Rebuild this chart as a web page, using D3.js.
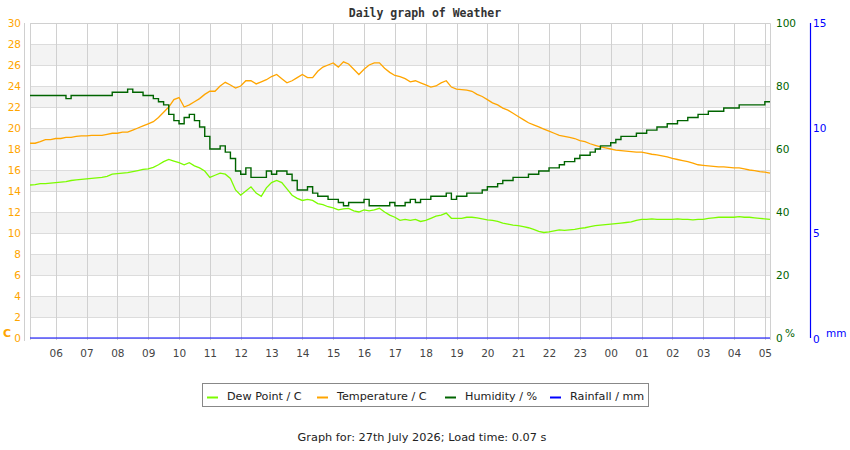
<!DOCTYPE html>
<html>
<head>
<meta charset="utf-8">
<script src="https://cdn.jsdelivr.net/npm/d3@7/dist/d3.min.js"></script>
<style>
  html, body { margin: 0; padding: 0; background: #fff; }
  svg { display: block; }
  text { font-family: "DejaVu Sans", sans-serif; }
</style>
</head>
<body>
<svg id="chart" width="850" height="450"></svg>
<script>
// ---------------- DATA ----------------
const startTime = "2026-07-26T05:10";
const endTime = "2026-07-27T05:10";
const sampleMinutes = 10; // readings every 10 minutes from startTime

const temperature = [
  18.55, 18.55, 18.7, 18.9, 18.9, 19.0, 19.0, 19.1, 19.1, 19.2,
  19.25, 19.25, 19.3, 19.3, 19.3, 19.4, 19.5, 19.5, 19.6, 19.6,
  19.8, 20.0, 20.2, 20.4, 20.6, 21.0, 21.5, 22.0, 22.7, 22.9,
  22.0, 22.2, 22.5, 22.8, 23.2, 23.5, 23.5, 24.0, 24.35, 24.1,
  23.8, 24.0, 24.5, 24.5, 24.2, 24.4, 24.6, 24.9, 25.1, 24.7,
  24.3, 24.5, 24.8, 25.1, 24.8, 24.8, 25.4, 25.8, 26.0, 26.2,
  25.8, 26.3, 26.1, 25.6, 25.1, 25.6, 26.0, 26.2, 26.2, 25.7,
  25.3, 25.0, 24.9, 24.7, 24.4, 24.5, 24.3, 24.1, 23.9, 24.0,
  24.3, 24.5, 23.9, 23.7, 23.65, 23.6, 23.5, 23.2, 23.0, 22.7,
  22.4, 22.2, 21.9, 21.7, 21.4, 21.1, 20.8, 20.5, 20.3, 20.1,
  19.9, 19.7, 19.5, 19.3, 19.2, 19.1, 19.0, 18.8, 18.7, 18.5,
  18.35, 18.2, 18.1, 18.0, 17.9, 17.85, 17.8, 17.75, 17.7, 17.7,
  17.6, 17.5, 17.45, 17.35, 17.25, 17.1, 17.0, 16.9, 16.8, 16.65,
  16.5, 16.45, 16.4, 16.35, 16.3, 16.3, 16.25, 16.2, 16.2, 16.1,
  16.0, 15.95, 15.85, 15.8, 15.7
];

const dewPoint = [
  14.57, 14.6, 14.7, 14.7, 14.75, 14.8, 14.85, 14.9, 15.0, 15.05,
  15.1, 15.15, 15.2, 15.25, 15.3, 15.4, 15.6, 15.65, 15.7, 15.75,
  15.85, 15.95, 16.05, 16.1, 16.25, 16.5, 16.8, 17.0, 16.85, 16.7,
  16.5, 16.7, 16.4, 16.2, 15.9, 15.3, 15.5, 15.7, 15.6, 15.2,
  14.1, 13.6, 14.0, 14.4, 13.8, 13.5, 14.3, 14.8, 15.0, 14.8,
  14.2, 13.6, 13.3, 13.1, 13.2, 13.1, 12.8, 12.7, 12.5, 12.4,
  12.2, 12.3, 12.35, 12.1, 12.0, 12.2, 12.1, 12.2, 12.35, 12.0,
  11.7, 11.5, 11.2, 11.3, 11.2, 11.3, 11.1, 11.2, 11.4, 11.6,
  11.7, 11.9, 11.4, 11.4, 11.4, 11.5, 11.5, 11.45, 11.35, 11.25,
  11.2, 11.1, 10.95, 10.85, 10.75, 10.7, 10.6, 10.5, 10.35, 10.15,
  10.05, 10.1, 10.2, 10.3, 10.25, 10.3, 10.35, 10.45, 10.5, 10.6,
  10.7, 10.75, 10.8, 10.85, 10.9, 10.95, 11.0, 11.05, 11.2, 11.3,
  11.3, 11.35, 11.3, 11.3, 11.3, 11.3, 11.35, 11.3, 11.3, 11.25,
  11.3, 11.3, 11.4, 11.45, 11.5, 11.5, 11.5, 11.5, 11.55, 11.5,
  11.5, 11.45, 11.4, 11.35, 11.3
];

const humidity = [
  77, 77, 77, 77, 77, 77, 77, 76, 77, 77,
  77, 77, 77, 77, 77, 77, 78, 78, 78, 79,
  78, 78, 77, 77, 76, 75, 74, 71, 69, 68,
  70, 71, 69, 67, 64, 60, 60, 61, 59, 57,
  53, 52, 54, 51, 51, 51, 53, 52, 53, 53,
  52, 50, 47, 47, 48, 46, 45, 45, 44, 44,
  43, 42, 43, 43, 43, 44, 42, 42, 42, 42,
  43, 42, 42, 43, 44, 43, 44, 44, 45, 45,
  45, 46, 44, 45, 45, 46, 46, 46, 47, 48,
  48, 49, 50, 50, 51, 51, 51, 52, 52, 53,
  53, 54, 54, 55, 56, 56, 57, 58, 58, 59,
  60, 61, 61, 62, 63, 64, 64, 64, 65, 65,
  66, 66, 67, 67, 68, 68, 69, 69, 70, 70,
  71, 71, 72, 72, 72, 73, 73, 73, 74, 74,
  74, 74, 74, 75, 75
];

const rainTimes = ["2026-07-26T05:10", "2026-07-26T11:10", "2026-07-26T17:10", "2026-07-26T23:10", "2026-07-27T05:10"];
const rainfall = [0, 0, 0, 0, 0];

const tempTicks = [0, 2, 4, 6, 8, 10, 12, 14, 16, 18, 20, 22, 24, 26, 28, 30];
const humTicks = [0, 20, 40, 60, 80, 100];
const rainTicks = [0, 5, 10, 15];

const legendItems = [
  { label: "Dew Point / C", color: "#7cfc00" },
  { label: "Temperature / C", color: "#ffa500" },
  { label: "Humidity / %", color: "#006400" },
  { label: "Rainfall / mm", color: "#0000ff" }
];

const title = "Daily graph of Weather";
const footer = "Graph for: 27th July 2026; Load time: 0.07 s";

// ---------------- CHART ----------------
const svg = d3.select("#chart");
const L = 30, R = 770, T = 23, B = 338;

const parse = d3.timeParse("%Y-%m-%dT%H:%M");
const t0 = parse(startTime), t1 = parse(endTime);
const timeAt = i => d3.timeMinute.offset(t0, i * sampleMinutes);

const x = d3.scaleTime().domain([t0, t1]).range([L, R]);
const yT = d3.scaleLinear().domain([0, 30]).range([B, T]);
const yH = d3.scaleLinear().domain([0, 100]).range([B, T]);
const yR = d3.scaleLinear().domain([0, 15]).range([B, T]);

// alternating bands
const bands = svg.append("g");
for (let k = 0; k < tempTicks.length - 1; k++) {
  const lo = tempTicks[k], hi = tempTicks[k + 1];
  if (k % 2 === 1) {
    bands.append("rect")
      .attr("x", L).attr("width", R - L)
      .attr("y", yT(hi)).attr("height", yT(lo) - yT(hi))
      .attr("fill", "#f3f3f3");
  }
}

// horizontal grid
svg.append("g").selectAll("line").data(tempTicks).join("line")
  .attr("x1", L).attr("x2", R)
  .attr("y1", d => Math.round(yT(d)) + 0.5).attr("y2", d => Math.round(yT(d)) + 0.5)
  .attr("stroke", "#dcdcdc").attr("stroke-width", 1);

// vertical grid (hours)
const hours = d3.timeHour.range(d3.timeHour.ceil(t0), t1);
svg.append("g").selectAll("line").data(hours).join("line")
  .attr("x1", d => Math.round(x(d)) + 0.5).attr("x2", d => Math.round(x(d)) + 0.5)
  .attr("y1", T).attr("y2", B + 2)
  .attr("stroke", "#d0d0d0").attr("stroke-width", 1);

// plot border (left, top, right)
svg.append("path")
  .attr("d", `M${L + 0.5},${B + 2}V${T + 0.5}H${R + 0.5}V${B + 2}`)
  .attr("fill", "none").attr("stroke", "#d0d0d0");

// left axis line
svg.append("line").attr("x1", 24.5).attr("x2", 24.5).attr("y1", T).attr("y2", B + 3)
  .attr("stroke", "#cfcfcf");

// x labels
const fmtH = d3.timeFormat("%H");
svg.append("g").selectAll("text").data(hours).join("text")
  .attr("x", d => x(d) + 0.5).attr("y", 357)
  .attr("text-anchor", "middle")
  .attr("font-size", "10.5px").attr("fill", "#444")
  .text(d => fmtH(d));

// left temp labels
svg.append("g").selectAll("text").data(tempTicks).join("text")
  .attr("x", 21).attr("y", d => yT(d) + 4)
  .attr("text-anchor", "end")
  .attr("font-size", "10.5px").attr("fill", "#ffa500")
  .text(d => d);
svg.append("text").attr("x", 3).attr("y", 337)
  .attr("font-size", "11px").attr("font-weight", "bold").attr("fill", "#ffa500").text("C");

// right humidity labels
svg.append("g").selectAll("text").data(humTicks).join("text")
  .attr("x", 776).attr("y", d => yH(d) + 4)
  .attr("font-size", "10.5px").attr("fill", "#006400")
  .text(d => d);
svg.append("text").attr("x", 785).attr("y", 337)
  .attr("font-size", "10.5px").attr("fill", "#006400").text("%");

// rainfall axis
svg.append("line").attr("x1", 810.5).attr("x2", 810.5).attr("y1", T).attr("y2", B)
  .attr("stroke", "#0000ff").attr("stroke-width", 1.2);
svg.append("g").selectAll("text").data(rainTicks).join("text")
  .attr("x", 813).attr("y", d => yR(d) + (d === 0 ? 5 : 4))
  .attr("font-size", "10.5px").attr("fill", "#0000ff")
  .text(d => d);
svg.append("text").attr("x", 826).attr("y", 337)
  .attr("font-size", "10.5px").attr("fill", "#0000ff").text("mm");

// series
const lineT = d3.line().x((d, i) => x(timeAt(i))).y(d => yT(d));
const lineH = d3.line().x((d, i) => x(timeAt(i))).y(d => yH(d)).curve(d3.curveStepAfter);

svg.append("path").datum(dewPoint).attr("d", lineT)
  .attr("fill", "none").attr("stroke", "#7cfc00").attr("stroke-width", 1.3);
svg.append("path").datum(temperature).attr("d", lineT)
  .attr("fill", "none").attr("stroke", "#ffa500").attr("stroke-width", 1.3);
svg.append("path").datum(humidity).attr("d", lineH)
  .attr("fill", "none").attr("stroke", "#006400").attr("stroke-width", 1.4);

const lineR = d3.line().x((d, i) => x(parse(rainTimes[i]))).y(d => yR(d));
svg.append("path").datum(rainfall).attr("d", lineR)
  .attr("fill", "none").attr("stroke", "#0000ff").attr("stroke-width", 1.2);

// title
svg.append("text").attr("x", 425).attr("y", 17)
  .attr("text-anchor", "middle")
  .style("font-family", "'DejaVu Sans Mono', monospace")
  .attr("font-size", "11.5px").attr("font-weight", "bold").attr("fill", "#333")
  .text(title);

// legend
svg.append("rect").attr("x", 202.5).attr("y", 383.5).attr("width", 446).attr("height", 23)
  .attr("fill", "#fff").attr("stroke", "#888");
const legendX = [207, 317, 445, 550];
legendItems.forEach((it, k) => {
  svg.append("line").attr("x1", legendX[k]).attr("x2", legendX[k] + 11)
    .attr("y1", 397.5).attr("y2", 397.5)
    .attr("stroke", it.color).attr("stroke-width", 2);
  svg.append("text").attr("x", legendX[k] + 20).attr("y", 400)
    .attr("font-size", "11.2px").attr("fill", "#222").text(it.label);
});

// footer
svg.append("text").attr("x", 422).attr("y", 441)
  .attr("text-anchor", "middle")
  .attr("font-size", "11.3px").attr("fill", "#222").text(footer);
</script>
</body>
</html>
